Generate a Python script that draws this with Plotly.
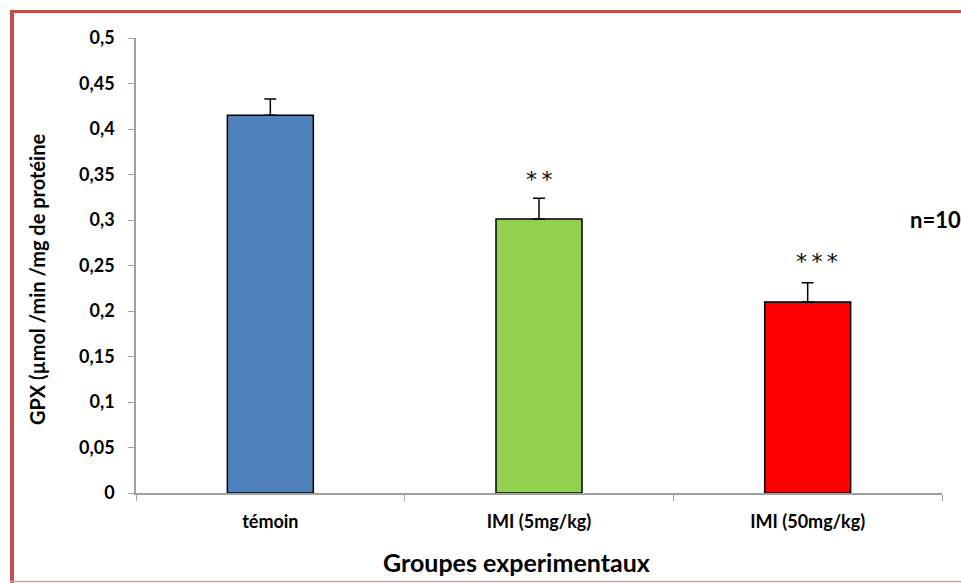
import plotly.graph_objects as go

# Groups and measured GPX activity
groupes = ["témoin", "IMI (5mg/kg)", "IMI (50mg/kg)"]
gpx = [0.415, 0.301, 0.210]
erreur = [0.018, 0.023, 0.021]
etoiles = ["", "**", "***"]
couleurs = ["#4F81BD", "#92D050", "#FF0000"]
titre_x = "Groupes experimentaux"
titre_y = "GPX (µmol /min /mg de protéine"

W, H = 961, 583
L, R, T, B = 136, 19, 38, 90
pw, ph = W - L - R, H - T - B


def px_x(p):
    return (p - L) / pw


def px_y(p):
    return (H - B - p) / ph


fig = go.Figure()
fig.add_trace(go.Bar(
    x=groupes, y=gpx,
    marker=dict(color=couleurs, line=dict(color="black", width=1.5)),
    width=0.32,
    error_y=dict(type="data", symmetric=False, array=erreur,
                 arrayminus=[0] * len(erreur),
                 color="black", thickness=1.5, width=6),
))

# significance marks above the error bars (the triple mark sits a bit right of centre)
decalage = {"***": (9, 7)}
for g, v, e, s in zip(groupes, gpx, erreur, etoiles):
    if s:
        dx, dy = decalage.get(s, (0, 4))
        fig.add_annotation(x=g, y=v + e, text="\u2009".join(s), showarrow=False,
                           yanchor="bottom", xshift=dx, yshift=dy,
                           font=dict(family="DejaVu Sans", size=22, color="black"))

fig.add_annotation(xref="paper", yref="paper", x=px_x(908), y=px_y(219),
                   text="<b>n=10</b>", showarrow=False, xanchor="left",
                   font=dict(family="Lato", size=22, color="black"))

# axis titles, placed in the margins
fig.add_annotation(xref="paper", yref="paper", x=px_x(516), y=px_y(562),
                   text=f"<b>{titre_x}</b>", showarrow=False,
                   xanchor="center", yanchor="middle",
                   font=dict(family="Lato", size=25, color="black"))
fig.add_annotation(xref="paper", yref="paper", x=px_x(37), y=px_y(280),
                   text=f"<b>{titre_y}</b>", showarrow=False, textangle=-90,
                   xanchor="center", yanchor="middle",
                   font=dict(family="Lato", size=20, color="black"))

# frame around the chart area
cadre = "#C0504D"
fig.add_shape(type="line", xref="paper", yref="paper",
              x0=px_x(12), x1=px_x(12), y0=px_y(10), y1=px_y(583),
              line=dict(color=cadre, width=4))
fig.add_shape(type="line", xref="paper", yref="paper",
              x0=px_x(10), x1=px_x(961), y0=px_y(11.5), y1=px_y(11.5),
              line=dict(color=cadre, width=3))
fig.add_shape(type="line", xref="paper", yref="paper",
              x0=px_x(10), x1=px_x(961), y0=px_y(581.5), y1=px_y(581.5),
              line=dict(color="#E39A98", width=1.5))

fig.update_layout(
    width=W, height=H,
    margin=dict(l=L, r=R, t=T, b=B, autoexpand=False),
    paper_bgcolor="white", plot_bgcolor="white",
    separators=", ",
    showlegend=False,
    font=dict(family="Lato", color="black"),
)
fig.update_xaxes(
    showline=True, linecolor="#A0A0A0", linewidth=1.5,
    ticks="outside", tickson="boundaries", ticklen=6, tickcolor="#A0A0A0",
    tickfont=dict(family="Lato", size=18, weight="bold"),
    ticklabelstandoff=12, automargin=False,
    showgrid=False,
)
fig.update_yaxes(
    range=[0, 0.5], dtick=0.05, showline=True, linecolor="#A0A0A0", linewidth=1.5,
    ticks="outside", ticklen=6, tickcolor="#A0A0A0",
    tickfont=dict(family="Lato", size=18, weight="bold"),
    ticklabelstandoff=10, automargin=False,
    showgrid=False, zeroline=False,
)

fig.write_html("out.html")
